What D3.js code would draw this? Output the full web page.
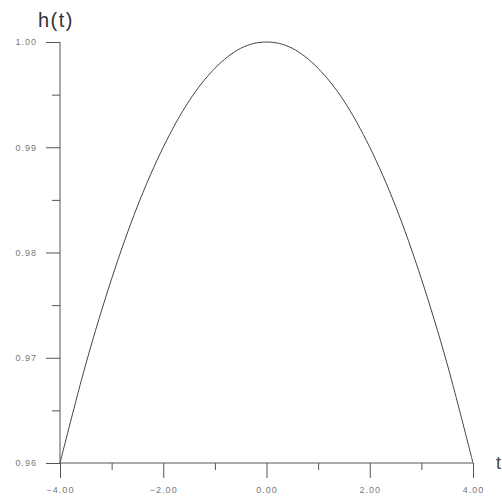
<!DOCTYPE html>
<html>
<head>
<meta charset="utf-8">
<script src="https://cdn.jsdelivr.net/npm/d3@7"></script>
<style>
  body { margin: 0; background: #fff; }
  svg { display: block; }
</style>
</head>
<body>
<div id="chart"></div>
<script>
// values
const tValues = [-4, -3.5, -3, -2.5, -2, -1.5, -1, -0.5, 0, 0.5, 1, 1.5, 2, 2.5, 3, 3.5, 4];
const hValues = [0.9600, 0.9694, 0.9775, 0.9844, 0.9900, 0.9944, 0.9975, 0.9994, 1.0000,
                 0.9994, 0.9975, 0.9944, 0.9900, 0.9844, 0.9775, 0.9694, 0.9600];
const xMajor = [-4, -2, 0, 2, 4];
const xMinor = [-3, -1, 1, 3];
const yMajor = [0.96, 0.97, 0.98, 0.99, 1.00];
const yMinor = [0.965, 0.975, 0.985, 0.995];

const width = 502, height = 499;
const plotLeft = 60, plotRight = 473, plotTop = 42, plotBottom = 463;

const svg = d3.select("#chart").append("svg")
    .attr("width", width)
    .attr("height", height)
    .style("font-family", "'Liberation Sans', Arial, sans-serif");

const x = d3.scaleLinear().domain([-4, 4]).range([plotLeft, plotRight]);
const y = d3.scaleLinear().domain([0.96, 1.0]).range([plotBottom, plotTop]);

const axisColor = "#555";

// x axis
const xg = svg.append("g").attr("transform", `translate(0,${plotBottom})`);
xg.call(d3.axisBottom(x).tickValues(xMajor).tickSize(15).tickPadding(9).tickFormat(d3.format(".2f")));
xg.append("g").call(d3.axisBottom(x).tickValues(xMinor).tickSize(7).tickFormat(""));
xg.selectAll(".domain").remove();
xg.append("line").attr("x1", plotLeft).attr("x2", plotRight).attr("stroke", axisColor);

// y axis
const yg = svg.append("g").attr("transform", `translate(${plotLeft},0)`);
yg.call(d3.axisLeft(y).tickValues(yMajor).tickSize(14).tickPadding(9).tickFormat(d3.format(".2f")));
yg.append("g").call(d3.axisLeft(y).tickValues(yMinor).tickSize(8).tickFormat(""));
yg.selectAll(".domain").remove();
yg.append("line").attr("y1", plotTop).attr("y2", plotBottom).attr("stroke", axisColor);

svg.selectAll(".tick line").attr("stroke", axisColor);
svg.selectAll(".tick text")
    .attr("fill", "#777")
    .style("font-family", "'Liberation Sans', Arial, sans-serif")
    .style("font-size", "9px")
    .style("letter-spacing", "1px");

// curve
const line = d3.line()
    .x((d, i) => x(tValues[i]))
    .y(d => y(d))
    .curve(d3.curveCardinal);

svg.append("path")
    .datum(hValues)
    .attr("fill", "none")
    .attr("stroke", "#444")
    .attr("stroke-width", 1)
    .attr("d", line);

// axis titles
svg.append("text")
    .attr("x", 38).attr("y", 27)
    .style("font-size", "20px")
    .style("letter-spacing", "1.5px")
    .attr("fill", "#333")
    .text("h(t)");

svg.append("text")
    .attr("x", 496).attr("y", 469)
    .style("font-size", "18px")
    .attr("fill", "#444")
    .text("t");
</script>
</body>
</html>
